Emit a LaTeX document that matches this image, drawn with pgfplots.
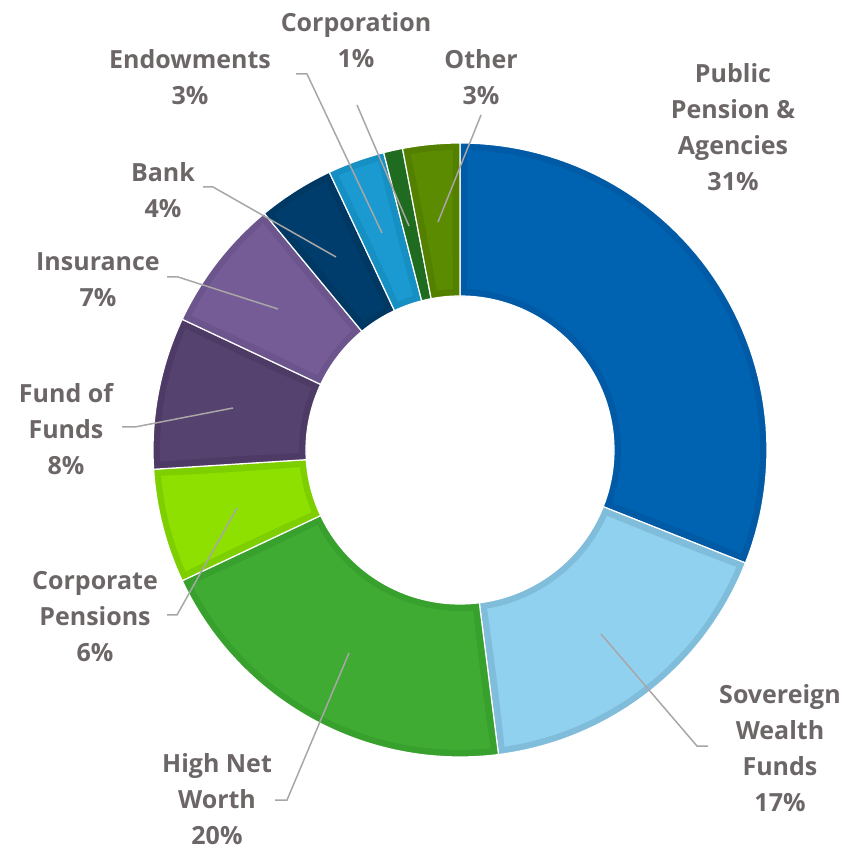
\documentclass[border=0pt]{standalone}
\usepackage{fontspec}
\setmainfont{Open Sans}
\usepackage{pgfplots}
\pgfplotsset{compat=1.18}
\definecolor{pubF}{HTML}{0063B1}\definecolor{pubB}{HTML}{005AA5}
\definecolor{sovF}{HTML}{90D1EF}\definecolor{sovB}{HTML}{80BDDB}
\definecolor{hnwF}{HTML}{3FAB33}\definecolor{hnwB}{HTML}{38A02D}
\definecolor{cppF}{HTML}{8EE000}\definecolor{cppB}{HTML}{7ECF00}
\definecolor{fofF}{HTML}{55426F}\definecolor{fofB}{HTML}{4D3B66}
\definecolor{insF}{HTML}{765C96}\definecolor{insB}{HTML}{6C548D}
\definecolor{bnkF}{HTML}{003D6C}\definecolor{bnkB}{HTML}{003864}
\definecolor{endF}{HTML}{1B9AD1}\definecolor{endB}{HTML}{168FC3}
\definecolor{corF}{HTML}{1F6B1F}\definecolor{corB}{HTML}{1B631B}
\definecolor{othF}{HTML}{5B8B00}\definecolor{othB}{HTML}{548000}
\definecolor{labc}{RGB}{108,102,103}
\definecolor{leadc}{RGB}{168,166,166}
% slice outline: #1,#2 outer arc angles, #3,#4 inner arc angles, #5 outer r, #6 inner r, #7 options
\newcommand{\slicebody}[7]{%
 \addplot[#7, domain=0:4, samples=241, variable=\t, no marks]
 ({460+(\t<=1 ? (#5) : (\t<=2 ? (#5)+((#6)-(#5))*(\t-1) : (\t<=3 ? (#6) : (#6)+((#5)-(#6))*(\t-3))))*cos(\t<=1 ? (#1)+((#2)-(#1))*\t : (\t<=2 ? (#2)+((#4)-(#2))*(\t-1) : (\t<=3 ? (#4)+((#3)-(#4))*(\t-2) : (#3)+((#1)-(#3))*(\t-3))))},
  {401+(\t<=1 ? (#5) : (\t<=2 ? (#5)+((#6)-(#5))*(\t-1) : (\t<=3 ? (#6) : (#6)+((#5)-(#6))*(\t-3))))*sin(\t<=1 ? (#1)+((#2)-(#1))*\t : (\t<=2 ? (#2)+((#4)-(#2))*(\t-1) : (\t<=3 ? (#4)+((#3)-(#4))*(\t-2) : (#3)+((#1)-(#3))*(\t-3))))});
}
% #1 start angle, #2 end angle, #3 fill colour, #4 border colour
\newcommand{\donut}[4]{%
 \pgfmathsetmacro\ao{#1-7/300*57.2958}%
 \pgfmathsetmacro\bo{#2+7/300*57.2958}%
 \pgfmathsetmacro\ai{#1-7/161*57.2958}%
 \pgfmathsetmacro\bi{#2+7/161*57.2958}%
 \edef\tmp{\noexpand\slicebody{#1}{#2}{#1}{#2}{307}{154}{fill=#4,draw=white,line width=1.2pt}%
 \noexpand\slicebody{\ao}{\bo}{\ai}{\bi}{300}{161}{fill=#3,draw=none}}\tmp}
\newcommand{\donutsolid}[3]{%
 \slicebody{#1}{#2}{#1}{#2}{307}{154}{fill=#3,draw=white,line width=1.2pt}}
\begin{document}
\begin{tikzpicture}[
  lab/.style={font=\fontsize{25}{36}\selectfont\bfseries, text=labc, align=center, anchor=center, inner sep=0pt},
  leader/.style={color=leadc, line width=1.5pt}]
\begin{axis}[hide axis, scale only axis, width=861pt, height=851pt,
  xmin=0, xmax=861, ymin=0, ymax=851, clip=false]
% shares (%): 31, 17, 20, 6, 8, 7, 4, 3, 1, 3  -> angles 90 - 3.6*cumulative
\donut{90}{-21.6}{pubF}{pubB}
\donut{-21.6}{-82.8}{sovF}{sovB}
\donut{-82.8}{-154.8}{hnwF}{hnwB}
\donut{-154.8}{-176.4}{cppF}{cppB}
\donut{-176.4}{-205.2}{fofF}{fofB}
\donut{-205.2}{-230.4}{insF}{insB}
\donut{-230.4}{-244.8}{bnkF}{bnkB}
\donut{-244.8}{-255.6}{endF}{endB}
\donutsolid{-255.6}{-259.2}{corF}
\donut{-259.2}{-270}{othF}{othB}
% leader lines
\addplot[leader, no marks] coordinates {(481,736) (438,629)};
\addplot[leader, no marks] coordinates {(357,746) (409,625)};
\addplot[leader, no marks] coordinates {(296,777) (307,777) (382,618)};
\addplot[leader, no marks] coordinates {(203,664) (213,664) (336,594)};
\addplot[leader, no marks] coordinates {(167,574) (178,574) (278,542)};
\addplot[leader, no marks] coordinates {(122,424) (135,424) (233,443)};
\addplot[leader, no marks] coordinates {(167,236) (177,236) (237,343)};
\addplot[leader, no marks] coordinates {(275,51) (287,51) (349,198)};
\addplot[leader, no marks] coordinates {(708,105) (697,105) (601,217)};
% labels
\node[lab] at (axis cs:217,52) {High Net\\Worth\\20\%};
\node[lab] at (axis cs:733,724) {Public\\Pension \&\\Agencies\\31\%};
\node[lab] at (axis cs:780,103) {Sovereign\\Wealth\\Funds\\17\%};
\node[lab] at (axis cs:95,234) {Corporate\\Pensions\\6\%};
\node[lab] at (axis cs:66,422) {Fund of\\Funds\\8\%};
\node[lab] at (axis cs:98,571) {Insurance\\7\%};
\node[lab] at (axis cs:163,661) {Bank\\4\%};
\node[lab] at (axis cs:190,774) {Endowments\\3\%};
\node[lab] at (axis cs:356,811) {Corporation\\1\%};
\node[lab] at (axis cs:481,774) {Other\\3\%};
\end{axis}
\pgfresetboundingbox
\useasboundingbox (current axis.south west) rectangle (current axis.north east);
\end{tikzpicture}
\end{document}
